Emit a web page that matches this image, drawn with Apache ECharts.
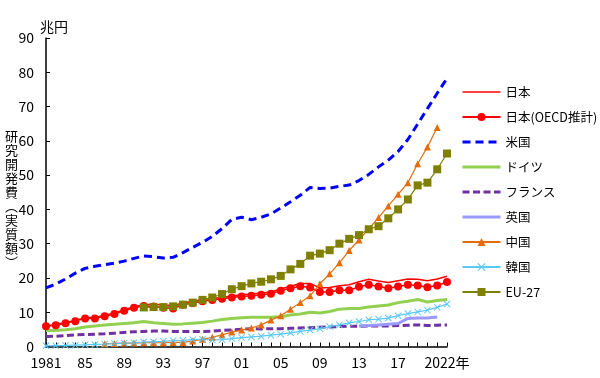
<!DOCTYPE html>
<html><head><meta charset="utf-8">
<script src="https://cdn.jsdelivr.net/npm/echarts@6/dist/echarts.min.js"></script>
<style>html,body{margin:0;padding:0;background:#fff}#c{width:600px;height:378px}</style>
</head><body><div id="c"></div>
<script>
const years = ['1981','1982','1983','1984','1985','1986','1987','1988','1989','1990',
 '1991','1992','1993','1994','1995','1996','1997','1998','1999','2000',
 '2001','2002','2003','2004','2005','2006','2007','2008','2009','2010',
 '2011','2012','2013','2014','2015','2016','2017','2018','2019','2020','2021','2022'];
const labelYears = ['1981','1985','1989','1993','1997','2001','2005','2009','2013','2017','2022'];
const labelTexts = ['1981','85','89','93','97','01','05','09','13','17','2022年'];
const yTicks = [0,10,20,30,40,50,60,70,80,90];

const japan = [6.0,6.4,7.0,7.6,8.4,8.5,9.1,9.8,10.7,11.6, 12.2,12.3,12.1,12.0,12.7,13.2,13.7,14.1,14.3,14.7,
 15.1,15.3,15.6,15.9,16.8,17.6,18.4,18.4,17.1,17.2, 17.7,18.0,18.9,19.6,19.1,18.7,19.2,19.7,19.6,19.2, 19.7,20.5];
const japanOECD = [5.9,6.2,6.8,7.4,8.2,8.2,8.8,9.5,10.4,11.3, 11.8,11.7,11.3,11.1,12.2,12.7,13.2,13.6,13.9,14.3,
 14.6,14.8,15.1,15.4,16.3,17.0,17.6,17.2,15.9,15.9, 16.4,16.4,17.4,18.0,17.5,17.0,17.5,18.0,17.8,17.3, 17.8,18.8];
const us = [17.1,18.2,19.7,21.4,22.8,23.4,23.9,24.3,24.9,25.7, 26.4,26.2,25.8,26.0,27.4,28.9,30.4,32.1,34.4,37.1,
 37.7,37.0,37.7,38.7,40.4,42.2,44.1,46.4,46.1,46.2, 46.7,47.1,48.4,50.2,52.4,54.4,56.9,60.4,64.9,69.4, 73.9,78.2];
const germany = [4.7,4.7,4.9,5.2,5.7,6.0,6.3,6.5,6.7,6.9, 7.3,6.9,6.7,6.5,6.6,6.8,7.0,7.4,7.9,8.2,
 8.4,8.5,8.5,8.5,8.7,9.2,9.5,10.0,9.8,10.2, 10.9,11.1,11.1,11.5,11.8,12.1,12.8,13.2,13.7,13.0, 13.4,13.7];
const france = [2.9,3.0,3.2,3.4,3.5,3.6,3.7,3.9,4.1,4.3, 4.4,4.5,4.5,4.4,4.4,4.4,4.4,4.5,4.7,4.8,
 5.0,5.2,5.1,5.2,5.2,5.3,5.4,5.5,5.6,5.7, 5.8,5.9,5.9,6.0,6.0,6.0,6.1,6.2,6.3,6.1, 6.2,6.3];
const uk = [null,null,null,null,null,null,null,null,null,null, null,null,null,null,null,null,null,null,null,null,
 null,null,null,null,null,null,null,null,null,null, null,null,6.0,6.1,6.3,6.5,6.7,8.2,8.3,8.3, 8.6,null];
const china = [null,null,null,null,null,null,0.8,0.9,1.0,1.0, 1.1,1.1,1.1,1.2,1.2,1.6,2.1,2.7,3.4,4.2,
 4.8,5.4,6.3,7.7,9.0,10.9,12.8,14.8,18.3,21.2, 24.4,28.0,31.1,34.3,37.6,41.0,44.4,47.8,53.3,58.2, 63.9,null];
const korea = [0.2,0.25,0.3,0.4,0.5,0.6,0.7,0.85,1.0,1.1, 1.3,1.4,1.5,1.7,1.8,2.0,2.1,1.9,2.0,2.3,
 2.6,2.8,3.0,3.3,3.6,4.0,4.4,4.8,5.2,5.8, 6.3,6.9,7.3,7.8,8.0,8.3,9.0,9.6,10.1,10.6, 11.4,12.4];
const eu = [null,null,null,null,null,null,null,null,null,null, 11.4,11.5,11.5,11.7,12.2,12.8,13.6,14.3,15.3,16.7,
 17.6,18.4,18.9,19.6,20.6,22.5,24.1,26.5,27.1,28.1, 30.0,31.4,32.5,34.2,35.1,37.4,40.0,42.9,47.0,47.8, 51.7,56.3];

const FONT = '"Noto Sans CJK JP", "Noto Sans", sans-serif';
const xMark = 'path://M1,0 L5,4 L9,0 L10,1 L6,5 L10,9 L9,10 L5,6 L1,10 L0,9 L4,5 L0,1 Z';

function line(name, data, color, width, extra) {
  return Object.assign({
    name, type: 'line', data, symbol: 'none', connectNulls: false, showAllSymbol: true,
    lineStyle: { color, width }, itemStyle: { color }, emphasis: { disabled: true }
  }, extra || {});
}
function legendNoSym(name, width, type) {
  const o = { name, itemStyle: { opacity: 0 }, lineStyle: { width } };
  if (type) o.lineStyle.type = type;
  return o;
}

const chart = echarts.init(document.getElementById('c'), null, { renderer: 'canvas' });
chart.setOption({
  animation: false,
  textStyle: { fontFamily: FONT, color: '#000' },
  grid: { left: 46, right: 153, top: 38, bottom: 31.5, containLabel: false },
  xAxis: {
    type: 'category', data: years, boundaryGap: false,
    axisLine: { lineStyle: { color: '#000', width: 1.5 } },
    axisTick: { inside: true, length: 4, interval: 0, lineStyle: { color: '#000' } },
    axisLabel: {
      interval: (i, v) => labelYears.indexOf(v) >= 0,
      formatter: v => labelTexts[labelYears.indexOf(v)],
      fontSize: 14, color: '#000', margin: 9, fontFamily: FONT
    },
    splitLine: { show: false }
  },
  yAxis: {
    type: 'value', min: yTicks[0], max: yTicks[yTicks.length - 1], interval: 10,
    axisLine: { show: true, lineStyle: { color: '#000', width: 1.5 } },
    axisTick: { show: true, inside: true, length: 4, lineStyle: { color: '#000' } },
    axisLabel: { fontSize: 14, color: '#000', margin: 12, fontFamily: FONT },
    splitLine: { show: false }
  },
  legend: {
    orient: 'vertical', left: 456, top: 79, itemWidth: 38, itemHeight: 10, itemGap: 9,
    textStyle: { fontSize: 12.5, color: '#000', fontFamily: FONT, lineHeight: 16 },
    data: [
      legendNoSym('日本', 1.5),
      { name: '日本(OECD推計)' },
      legendNoSym('米国', 3, [8, 5]),
      legendNoSym('ドイツ', 3),
      legendNoSym('フランス', 3, [7, 3.5]),
      legendNoSym('英国', 3),
      { name: '中国' }, { name: '韓国' }, { name: 'EU-27' }
    ]
  },
  graphic: [
    { type: 'text', left: 40, top: 20, style: { text: '兆円', font: '14px ' + FONT, fill: '#000' } },
    { type: 'text', left: 5, top: 129, style: { text: ['研','究','開','発','費','︵','実','質','額','︶'].join('\n'),
      font: '13px ' + FONT, fill: '#000', lineHeight: 14, align: 'left' } }
  ],
  series: [
    line('日本', japan, '#FF0000', 1.5),
    line('日本(OECD推計)', japanOECD, '#FF0000', 1.5, { symbol: 'circle', symbolSize: 8, showSymbol: true }),
    line('米国', us, '#0000FF', 3, { lineStyle: { color: '#0000FF', width: 3, type: [8, 5] } }),
    line('ドイツ', germany, '#92D050', 3),
    line('フランス', france, '#7030A0', 3, { lineStyle: { color: '#7030A0', width: 3, type: [7, 3.5] } }),
    line('英国', uk, '#9999FF', 3),
    line('中国', china, '#E46C0A', 1.2, { symbol: 'triangle', symbolSize: 7, showSymbol: true }),
    line('韓国', korea, '#5BC8F5', 1.2, { symbol: xMark, symbolSize: 7, showSymbol: true }),
    line('EU-27', eu, '#808000', 1.2, { symbol: 'rect', symbolSize: 8, showSymbol: true })
  ]
});
</script></body></html>
